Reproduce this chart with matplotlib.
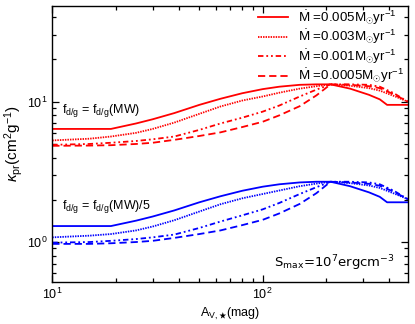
import matplotlib
matplotlib.use("Agg")
import matplotlib.pyplot as plt
from matplotlib.ticker import LogLocator, NullFormatter

plt.rcParams["font.family"] = ["Liberation Sans", "DejaVu Sans"]
plt.rcParams["mathtext.fontset"] = "custom"
plt.rcParams["mathtext.rm"] = "Liberation Sans"
plt.rcParams["mathtext.it"] = "Liberation Sans:italic"
plt.rcParams["mathtext.bf"] = "Liberation Sans:bold"

# A_V grid (mag) and kappa_pr values
av_solid = [10, 19, 25, 30, 38, 50, 63, 80, 100, 120, 150, 180, 210, 260, 320, 360, 390, 490]
av_other = [10, 15, 19, 25, 30, 38, 50, 63, 80, 100, 120, 150, 180, 210, 260, 320, 360, 420, 490]

red_0005 = [6.4, 6.4, 7.0, 7.5, 8.3, 9.5, 10.5, 11.5, 12.3, 12.8, 13.2, 13.3, 13.3, 12.4, 11.2, 10.4, 9.5, 9.5]
red_0003 = [5.3, 5.45, 5.65, 6.0, 6.4, 7.1, 8.2, 9.25, 10.2, 10.9, 11.6, 12.4, 12.9, 13.3, 13.0, 12.5, 12.0, 11.0, 10.0]
red_0001 = [4.93, 5.0, 5.1, 5.25, 5.4, 5.65, 6.3, 7.0, 7.7, 8.5, 9.4, 10.9, 12.2, 13.3, 13.3, 13.2, 12.8, 11.5, 10.0]
red_00005 = [4.85, 4.87, 4.9, 5.0, 5.1, 5.35, 5.7, 6.05, 6.6, 7.2, 8.0, 9.3, 11.1, 13.3, 13.2, 12.9, 12.5, 11.3, 10.0]

blue_0005 = [1.30, 1.30, 1.42, 1.52, 1.68, 1.92, 2.12, 2.32, 2.48, 2.58, 2.66, 2.69, 2.69, 2.50, 2.26, 2.10, 1.92, 1.92]
blue_0003 = [1.08, 1.11, 1.14, 1.21, 1.29, 1.43, 1.65, 1.86, 2.05, 2.20, 2.33, 2.50, 2.61, 2.69, 2.63, 2.53, 2.43, 2.22, 2.02]
blue_0001 = [0.99, 1.0, 1.02, 1.05, 1.08, 1.13, 1.26, 1.40, 1.55, 1.71, 1.90, 2.20, 2.46, 2.69, 2.69, 2.66, 2.58, 2.32, 2.02]
blue_00005 = [0.97, 0.97, 0.98, 1.0, 1.02, 1.07, 1.14, 1.21, 1.32, 1.44, 1.60, 1.87, 2.23, 2.69, 2.66, 2.60, 2.52, 2.28, 2.02]

labels = [
    r"$\dot{\mathrm{M}}$ =0.005M$_{\odot}$yr$^{-1}$",
    r"$\dot{\mathrm{M}}$ =0.003M$_{\odot}$yr$^{-1}$",
    r"$\dot{\mathrm{M}}$ =0.001M$_{\odot}$yr$^{-1}$",
    r"$\dot{\mathrm{M}}$ =0.0005M$_{\odot}$yr$^{-1}$",
]
styles = ["-", (0, (0.8, 0.6)), (0, (3, 1.6, 1, 1.6, 1, 1.6)), (0, (4, 2.2))]

fig = plt.figure(figsize=(4.15, 3.24), dpi=100)
ax = fig.add_axes([0.126, 0.130, 0.857, 0.851])

reds = [red_0005, red_0003, red_0001, red_00005]
blues = [blue_0005, blue_0003, blue_0001, blue_00005]
for i in range(4):
    xs = av_solid if i == 0 else av_other
    ax.plot(xs, reds[i], color="red", lw=1.3, ls=styles[i], label=labels[i])
    ax.plot(xs, blues[i], color="blue", lw=1.3, ls=styles[i])

ax.set_xscale("log")
ax.set_yscale("log")
ax.set_xlim(10, 490)
ax.set_ylim(0.52, 48)

for a in (ax.xaxis, ax.yaxis):
    a.set_minor_locator(LogLocator(base=10, subs=range(2, 10)))
    a.set_minor_formatter(NullFormatter())
ax.tick_params(which="both", direction="in", top=True, right=True, labelsize=9, width=0.9)
ax.tick_params(which="major", length=5)
ax.tick_params(which="minor", length=3)
for s in ax.spines.values():
    s.set_linewidth(1.0)

ax.set_xlabel(r"A$_{\mathrm{V,\bigstar}}$(mag)", fontsize=9, labelpad=3)
ax.set_ylabel(r"$\kappa_{\mathrm{pr}}$(cm$^{2}$g$^{-1}$)", fontsize=11, labelpad=1)

ax.text(0.027, 0.623, r"f$_{\mathrm{d/g}}$ = f$_{\mathrm{d/g}}$(MW)", transform=ax.transAxes,
        fontsize=9, va="center", ha="left")
ax.text(0.027, 0.272, r"f$_{\mathrm{d/g}}$ = f$_{\mathrm{d/g}}$(MW)/5", transform=ax.transAxes,
        fontsize=9, va="center", ha="left")
ax.text(0.623, 0.069, r"S$_{\mathrm{max}}$=10$^{7}$ergcm$^{\mathrm{-3}}$", transform=ax.transAxes,
        fontsize=9.5, va="center", ha="left", family="DejaVu Sans", math_fontfamily="dejavusans")

ax.legend(loc="upper right", bbox_to_anchor=(0.995, 1.0), frameon=False, fontsize=9.6,
          handlelength=2.25, handletextpad=0.75, labelspacing=0.08, borderaxespad=0.0,
          borderpad=0.15)

fig.savefig("out.png", dpi=100)
